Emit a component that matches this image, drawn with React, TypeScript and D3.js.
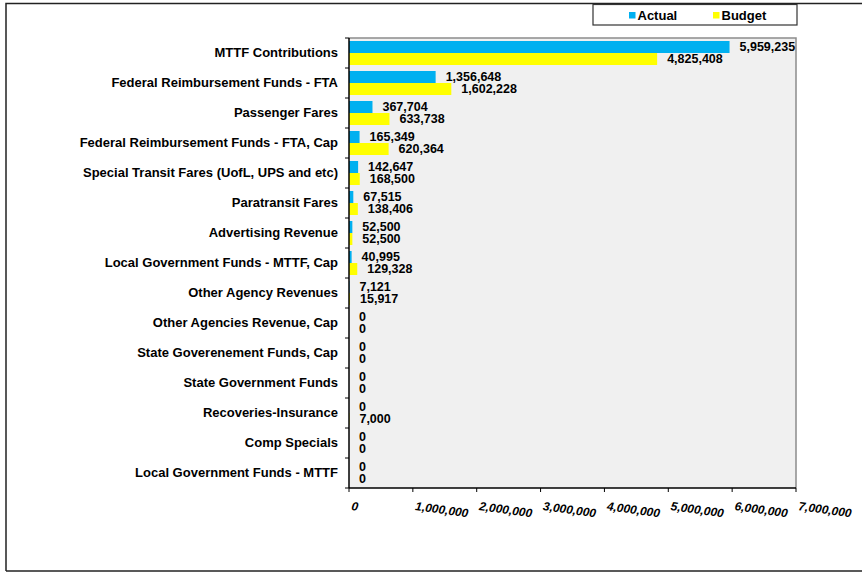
import React from "react";
import * as d3 from "d3";

const categories = [
  "MTTF Contributions",
  "Federal Reimbursement Funds - FTA",
  "Passenger Fares",
  "Federal Reimbursement Funds - FTA, Cap",
  "Special Transit Fares (UofL, UPS and etc)",
  "Paratransit Fares",
  "Advertising Revenue",
  "Local Government Funds - MTTF, Cap",
  "Other Agency Revenues",
  "Other Agencies Revenue, Cap",
  "State Goverenement Funds, Cap",
  "State Government Funds",
  "Recoveries-Insurance",
  "Comp Specials",
  "Local Government Funds - MTTF",
];
const actual = [5959235, 1356648, 367704, 165349, 142647, 67515, 52500, 40995, 7121, 0, 0, 0, 0, 0, 0];
const budget = [4825408, 1602228, 633738, 620364, 168500, 138406, 52500, 129328, 15917, 0, 0, 0, 7000, 0, 0];
const xTicks = [0, 1000000, 2000000, 3000000, 4000000, 5000000, 6000000, 7000000];
const seriesNames = ["Actual", "Budget"];
const colors = ["#00B0F0", "#FFFF00"];

const W = 862;
const H = 573;
const plot = { left: 349, right: 796, top: 38, bottom: 488 };
const font = "'Liberation Sans', Arial, Helvetica, sans-serif";

export default function App() {
  const x = d3.scaleLinear().domain([0, 7000000]).range([plot.left, plot.right]);
  const y = d3.scaleBand<string>().domain(categories).range([plot.top, plot.bottom]).paddingInner(0).paddingOuter(0);
  const bw = y.bandwidth();
  const inner = d3.scaleBand<string>().domain(seriesNames).range([3, bw - 3]);
  const fmt = d3.format(",");
  const series = [actual, budget];

  return (
    <svg width={W} height={H} style={{ position: "absolute", left: 0, top: 0 }} fontFamily={font}>
      <rect x={0} y={0} width={W} height={H} fill="#fff" />
      {/* outer frame */}
      <path d={`M6,${H - 2} L6,3.5 L${W + 2},3.5`} fill="none" stroke="#222" strokeWidth={1.5} />
      <line x1={6} x2={W} y1={H - 2} y2={H - 2} stroke="#222" strokeWidth={1.5} />
      {/* plot area */}
      <rect x={plot.left} y={plot.top} width={plot.right - plot.left} height={plot.bottom - plot.top} fill="#F0F0F0" />
      <path d={`M${plot.left},${plot.top} L${plot.right},${plot.top} L${plot.right},${plot.bottom}`} fill="none" stroke="#8c8c8c" strokeWidth={1.5} />
      {/* bars */}
      {series.map((vals, si) =>
        categories.map((c, i) => {
          const by = (y(c) as number) + (inner(seriesNames[si]) as number);
          const h = inner.bandwidth();
          return (
            <g key={`${si}-${i}`}>
              <rect x={x(0)} y={by} width={x(vals[i]) - x(0)} height={h} fill={colors[si]} />
              <text
                x={x(vals[i]) + 10}
                y={by + h / 2 + 1}
                dominantBaseline="middle"
                fontSize={12.5}
                fontWeight="bold"
                fill="#000"
              >
                {fmt(vals[i])}
              </text>
            </g>
          );
        })
      )}
      {/* left axis */}
      <line x1={plot.left} x2={plot.left} y1={plot.top} y2={plot.bottom} stroke="#000" strokeWidth={1.5} />
      {categories.map((c, i) => (
        <line key={`t${i}`} x1={plot.left - 4} x2={plot.left} y1={(y(c) as number) + bw} y2={(y(c) as number) + bw} stroke="#000" />
      ))}
      <line x1={plot.left - 4} x2={plot.left} y1={plot.top} y2={plot.top} stroke="#000" />
      {categories.map((c) => (
        <text
          key={c}
          x={338}
          y={(y(c) as number) + bw / 2 + 1}
          textAnchor="end"
          dominantBaseline="middle"
          fontSize={13}
          fontWeight="bold"
          fill="#000"
        >
          {c}
        </text>
      ))}
      {/* bottom axis */}
      <line x1={plot.left} x2={plot.right} y1={plot.bottom} y2={plot.bottom} stroke="#000" strokeWidth={1.5} />
      {xTicks.map((t) => (
        <g key={t}>
          <line x1={x(t)} x2={x(t)} y1={plot.bottom} y2={plot.bottom + 4} stroke="#000" />
          <text
            x={x(t) + 2}
            y={510}
            transform={`rotate(8, ${x(t) + 2}, 510)`}
            fontSize={12}
            fontWeight="bold"
            fontStyle="italic"
            fill="#000"
          >
            {fmt(t)}
          </text>
        </g>
      ))}
      {/* legend */}
      <rect x={593} y={4.5} width={204} height={20.5} fill="#fff" stroke="#333" strokeWidth={1.2} />
      {seriesNames.map((s, i) => {
        const lx = [629, 713][i];
        return (
          <g key={s}>
            <rect x={lx} y={12} width={6.5} height={6.5} fill={colors[i]} />
            <text x={lx + 8.5} y={19.5} fontSize={13} fontWeight="bold" fill="#000">
              {s}
            </text>
          </g>
        );
      })}
    </svg>
  );
}
